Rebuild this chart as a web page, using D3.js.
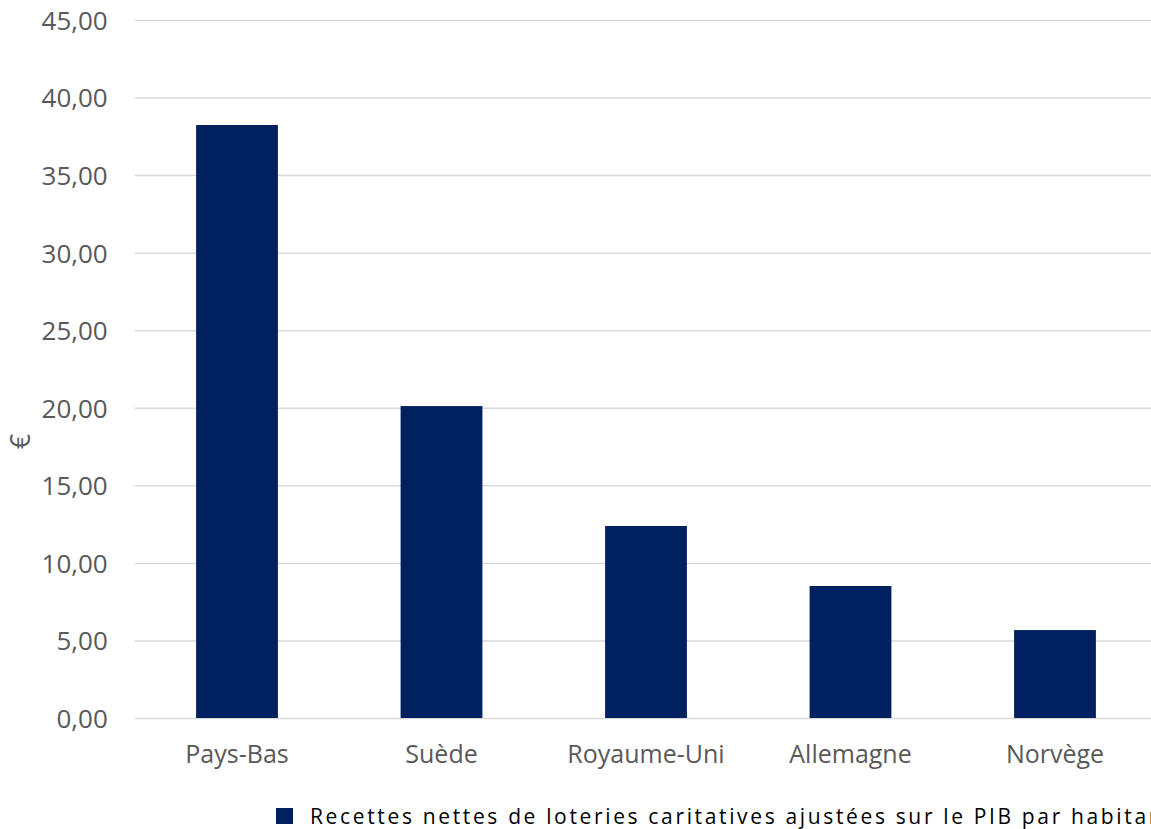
<!DOCTYPE html>
<html>
<head>
<meta charset="utf-8">
<script src="https://cdn.jsdelivr.net/npm/d3@7"></script>
<style>
  html, body { margin: 0; padding: 0; background: #fff; overflow: hidden; }
  svg { display: block; }
</style>
</head>
<body>
<svg id="chart" width="1151" height="829"></svg>
<script>
const categories = ["Pays-Bas", "Suède", "Royaume-Uni", "Allemagne", "Norvège"];
const values = [38.23, 20.11, 12.38, 8.51, 5.67];
const yTicks = [0, 5, 10, 15, 20, 25, 30, 35, 40, 45];
const seriesName = "Recettes nettes de loteries caritatives ajustées sur le PIB par habitant";
const yAxisTitle = "€";

const W = 1151, H = 829;
const margin = { left: 134.75, right: -6.25, top: 20, bottom: 111 };
const svg = d3.select("#chart");
const font = "'Open Sans', 'Noto Sans', sans-serif";
const textColor = "#595959";

const x = d3.scaleBand()
  .domain(categories)
  .range([margin.left, W - margin.right])
  .paddingInner(0.6)
  .paddingOuter(0.3);

const y = d3.scaleLinear()
  .domain([0, 45])
  .range([H - margin.bottom, margin.top]);

// gridlines
const yAxis = d3.axisLeft(y)
  .tickValues(yTicks)
  .tickSize(-(W - margin.right - margin.left))
  .tickPadding(27)
  .tickFormat(d => d3.format(".2f")(d).replace(".", ","));

const gy = svg.append("g")
  .attr("transform", `translate(${margin.left},0)`)
  .call(yAxis);
gy.select(".domain").remove();
gy.selectAll(".tick line").attr("stroke", "#d9d9d9").attr("stroke-width", 1.5);
gy.selectAll(".tick text")
  .attr("fill", textColor)
  .attr("font-family", font)
  .attr("font-size", 26)
  .attr("dy", "0.36em");

// bars
svg.append("g").selectAll("rect")
  .data(categories.map((c, i) => ({ c, v: values[i] })))
  .join("rect")
  .attr("x", d => x(d.c))
  .attr("width", x.bandwidth())
  .attr("y", d => y(d.v))
  .attr("height", d => y(0) - y(d.v))
  .attr("fill", "#002060");

// x axis labels
const xAxis = d3.axisBottom(x).tickSize(0).tickPadding(45);
const gx = svg.append("g")
  .attr("transform", `translate(0,${y(0)})`)
  .call(xAxis);
gx.select(".domain").remove();
gx.selectAll(".tick text")
  .attr("fill", textColor)
  .attr("font-family", font)
  .attr("font-size", 25)
  .attr("dy", "0");

// y axis title
svg.append("text")
  .attr("transform", `translate(20,441.5) rotate(-90)`)
  .attr("text-anchor", "middle")
  .attr("dy", "0.36em")
  .attr("fill", textColor)
  .attr("font-family", font)
  .attr("font-size", 27)
  .text(yAxisTitle);

// legend
const lg = svg.append("g").attr("transform", "translate(276,808)");
lg.append("rect").attr("width", 17).attr("height", 16).attr("fill", "#002060");
lg.append("text")
  .attr("x", 34)
  .attr("y", 15.5)
  .attr("fill", "#000")
  .attr("font-family", font)
  .attr("font-size", 21)
  .attr("letter-spacing", "2.65px")
  .text(seriesName);
</script>
</body>
</html>
